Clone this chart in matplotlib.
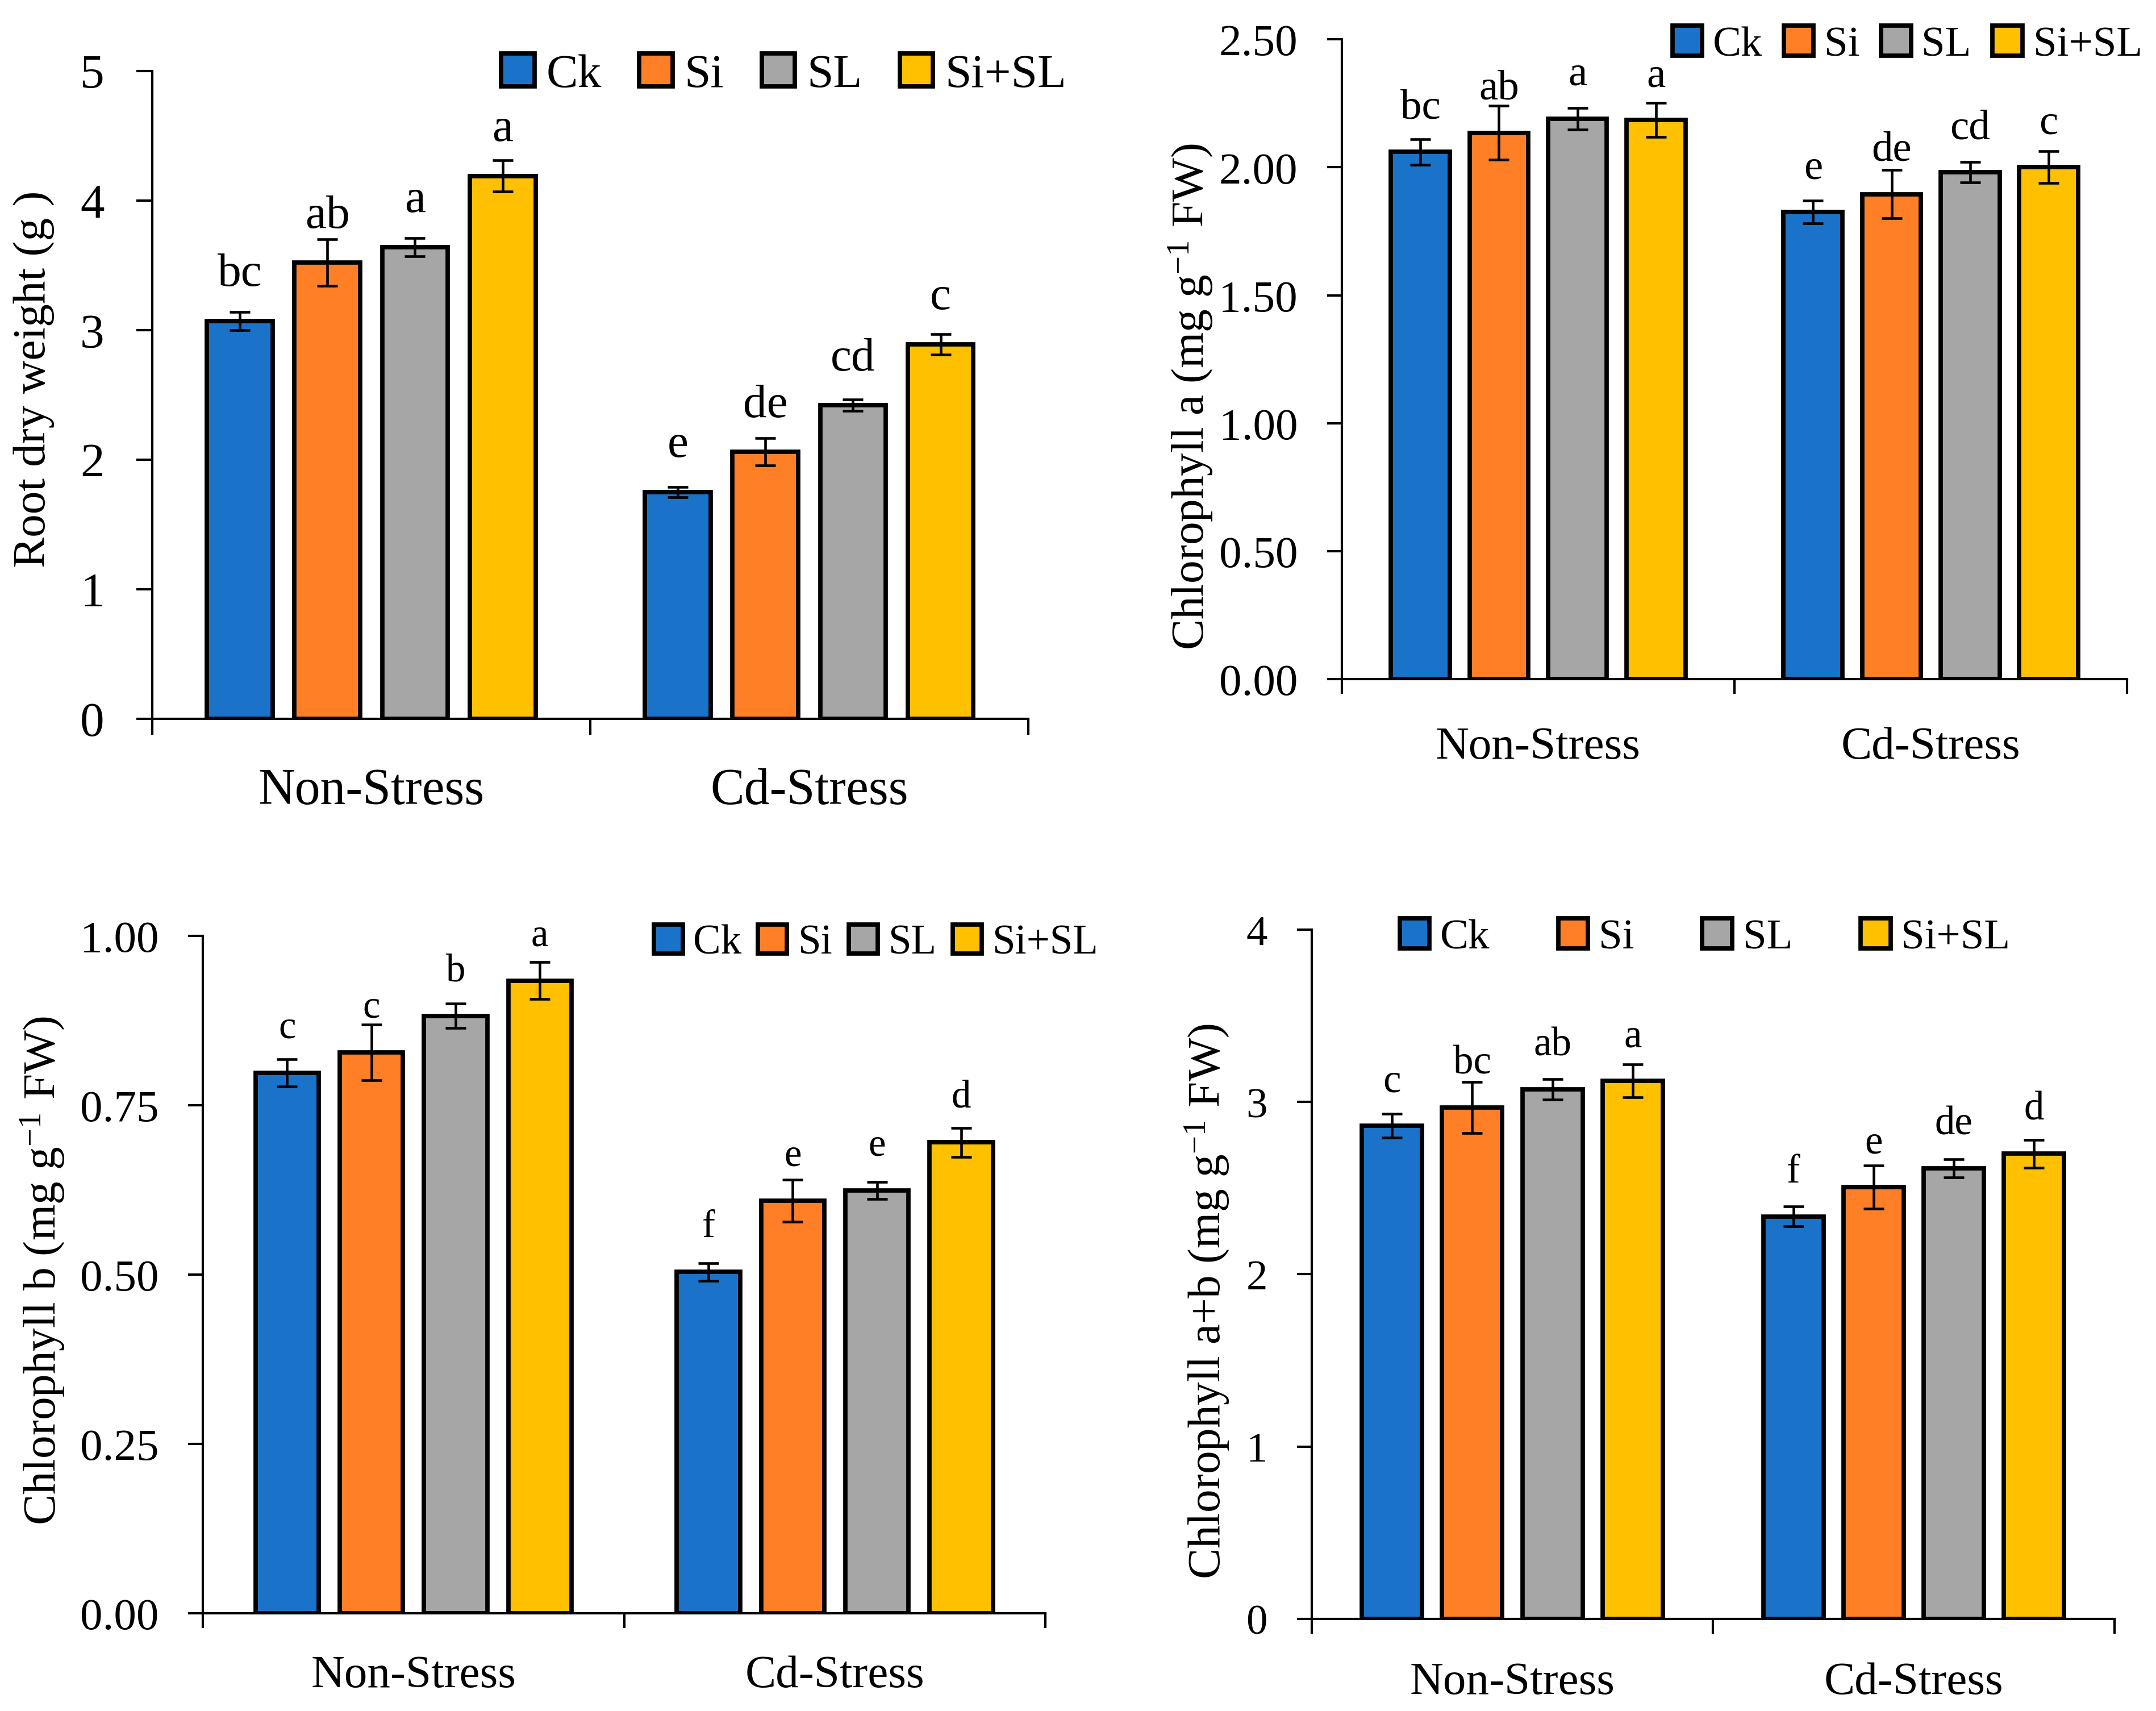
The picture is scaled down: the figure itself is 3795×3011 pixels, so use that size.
import numpy as np
import matplotlib
matplotlib.use("Agg")
import matplotlib.pyplot as plt

plt.rcParams['font.family'] = ['Liberation Serif', 'DejaVu Serif']
plt.rcParams['mathtext.fontset'] = 'custom'
plt.rcParams['mathtext.rm'] = 'Liberation Serif'
plt.rcParams['mathtext.it'] = 'Liberation Serif:italic'
plt.rcParams['mathtext.bf'] = 'Liberation Serif:bold'

# ---------------- data ----------------
groups = ['Non-Stress', 'Cd-Stress']
treatments = ['Ck', 'Si', 'SL', 'Si+SL']
colors = ['#1A73C9', '#FF7F27', '#A6A6A6', '#FFC000']

root_dw_mean = [[3.07, 3.52, 3.64, 4.19], [1.75, 2.06, 2.42, 2.89]]
root_dw_err = [[0.07, 0.18, 0.07, 0.12], [0.04, 0.105, 0.045, 0.08]]
root_dw_letters = [['bc', 'ab', 'a', 'a'], ['e', 'de', 'cd', 'c']]
root_dw_ticks = [0, 1, 2, 3, 4, 5]
root_dw_ticklabels = ['0', '1', '2', '3', '4', '5']

chl_a_mean = [[2.06, 2.135, 2.19, 2.185], [1.825, 1.895, 1.98, 2.00]]
chl_a_err = [[0.05, 0.106, 0.042, 0.067], [0.045, 0.095, 0.04, 0.062]]
chl_a_letters = [['bc', 'ab', 'a', 'a'], ['e', 'de', 'cd', 'c']]
chl_a_ticks = [0, 0.5, 1.0, 1.5, 2.0, 2.5]
chl_a_ticklabels = ['0.00', '0.50', '1.00', '1.50', '2.00', '2.50']

chl_b_mean = [[0.798, 0.828, 0.882, 0.934], [0.504, 0.609, 0.624, 0.695]]
chl_b_err = [[0.02, 0.041, 0.018, 0.027], [0.013, 0.031, 0.0125, 0.021]]
chl_b_letters = [['c', 'c', 'b', 'a'], ['f', 'e', 'e', 'd']]
chl_b_ticks = [0, 0.25, 0.5, 0.75, 1.0]
chl_b_ticklabels = ['0.00', '0.25', '0.50', '0.75', '1.00']

chl_ab_mean = [[2.862, 2.967, 3.074, 3.122], [2.336, 2.507, 2.615, 2.700]]
chl_ab_err = [[0.068, 0.149, 0.059, 0.095], [0.057, 0.125, 0.052, 0.081]]
chl_ab_letters = [['c', 'bc', 'ab', 'a'], ['f', 'e', 'de', 'd']]
chl_ab_ticks = [0, 1, 2, 3, 4]
chl_ab_ticklabels = ['0', '1', '2', '3', '4']

# ---------------- figure ----------------
fig = plt.figure(figsize=(12.65, 10.04), dpi=300)


def panel(rect, means, errs, letters, yticks, yticklabels, ylabel, st):
    ax = fig.add_axes(rect)
    x = np.arange(len(groups))
    for i, t in enumerate(treatments):
        xs = x + (i - 1.5) * 0.2
        vals = [means[g][i] for g in range(len(groups))]
        es = [errs[g][i] for g in range(len(groups))]
        ax.bar(xs, vals, width=0.15, color=colors[i], edgecolor='black',
               linewidth=1.85, label=t, zorder=2)
        ax.errorbar(xs, vals, yerr=es, fmt='none', ecolor='black',
                    elinewidth=1.1, capsize=4.4, capthick=1.1, zorder=3)
        for xx, v, g in zip(xs, vals, range(len(groups))):
            ax.annotate(letters[g][i], (xx, v), xytext=(0, st['loff']),
                        textcoords='offset points', ha='center',
                        va='baseline', fontsize=st['lfs'], zorder=4)
    ax.set_xlim(-0.5, len(groups) - 0.5)
    ax.set_ylim(yticks[0], yticks[-1])
    ax.set_yticks(yticks)
    ax.set_yticklabels(yticklabels)
    ax.set_xticks(x)
    ax.set_xticklabels(groups)
    ax.set_xticks(np.arange(len(groups) + 1) - 0.5, minor=True)
    for s in ['top', 'right']:
        ax.spines[s].set_visible(False)
    for s in ['left', 'bottom']:
        ax.spines[s].set_linewidth(1.0)
    ax.tick_params(axis='y', which='major', direction='out', length=st['tl'],
                   width=1.0, pad=st['ypad'], labelsize=st['yfs'])
    ax.tick_params(axis='x', which='major', length=0, pad=st['xpad'],
                   labelsize=st['xfs'])
    ax.tick_params(axis='x', which='minor', direction='out', length=st['tl'],
                   width=1.0)
    ax.set_ylabel(ylabel, fontsize=19.5)
    ax.yaxis.set_label_coords(st['ylx'], st['yly'])
    ax.legend(loc='center', bbox_to_anchor=st['lg'], ncol=4, frameon=False,
              fontsize=st['legfs'], handlelength=0.7, handleheight=0.7,
              handletextpad=0.25, columnspacing=st['cs'], borderpad=0,
              borderaxespad=0)
    return ax


panel([0.0706, 0.5797, 0.4063, 0.3785], root_dw_mean, root_dw_err,
      root_dw_letters, root_dw_ticks, root_dw_ticklabels,
      'Root dry weight (g )',
      dict(loff=15, lfs=20, tl=6.7, ypad=13.5, yfs=20.5, xpad=20.5, xfs=21.5,
           ylx=-0.111, yly=0.525, lg=(0.721, 0.994), legfs=20, cs=0.8))

panel([0.6224, 0.6029, 0.3642, 0.3738], chl_a_mean, chl_a_err,
      chl_a_letters, chl_a_ticks, chl_a_ticklabels,
      r'Chlorophyll a (mg g$^{\mathregular{-1}}$ FW)',
      dict(loff=14.4, lfs=18, tl=6.2, ypad=12.5, yfs=19, xpad=20, xfs=19.5,
           ylx=-0.161, yly=0.442, lg=(0.72, 0.991), legfs=18, cs=0.5))

panel([0.0941, 0.0571, 0.3908, 0.3958], chl_b_mean, chl_b_err,
      chl_b_letters, chl_b_ticks, chl_b_ticklabels,
      r'Chlorophyll b (mg g$^{\mathregular{-1}}$ FW)',
      dict(loff=15, lfs=16.5, tl=6.2, ypad=12.5, yfs=19, xpad=17.5, xfs=19.5,
           ylx=-0.161, yly=0.507, lg=(0.799, 0.989), legfs=17.5, cs=0.4))

panel([0.6084, 0.0538, 0.3723, 0.4027], chl_ab_mean, chl_ab_err,
      chl_ab_letters, chl_ab_ticks, chl_ab_ticklabels,
      r'Chlorophyll a+b (mg g$^{\mathregular{-1}}$ FW)',
      dict(loff=14.5, lfs=17, tl=6.2, ypad=12.5, yfs=18, xpad=18, xfs=19.5,
           ylx=-0.10, yly=0.462, lg=(0.49, 0.988), legfs=18, cs=1.6))

fig.savefig('out.png', dpi=300)
